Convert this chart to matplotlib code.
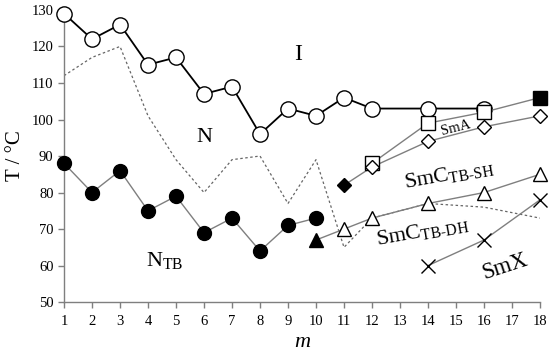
import matplotlib
matplotlib.use("Agg")
import matplotlib.pyplot as plt

plt.rcParams["font.family"] = ["Liberation Serif", "DejaVu Serif"]
plt.rcParams["mathtext.fontset"] = "custom"
plt.rcParams["mathtext.rm"] = "Liberation Serif"
plt.rcParams["mathtext.it"] = "Liberation Serif:italic"

# isotropic phase (open circles)
iso_m = [1, 2, 3, 4, 5, 6, 7, 8, 9, 10, 11, 12, 14, 16]
iso_T = [129, 122, 126, 115, 117, 107, 109, 96, 103, 101, 106, 103, 103, 103]

# N_TB (filled circles)
ntb_m = [1, 2, 3, 4, 5, 6, 7, 8, 9, 10]
ntb_T = [88, 80, 86, 75, 79, 69, 73, 64, 71, 73]

# SmA (squares), last one filled
sma_m = [12, 14, 16]
sma_T = [88, 99, 102]
sma_fill_m = [18]
sma_fill_T = [106]

# SmC_TB-SH (diamonds), first one filled
sh_m = [12, 14, 16, 18]
sh_T = [87, 94, 98, 101]
sh_fill_m = [11]
sh_fill_T = [82]

# SmC_TB-DH (triangles), first one filled
dh_m = [11, 12, 14, 16, 18]
dh_T = [70, 73, 77, 80, 85]
dh_fill_m = [10]
dh_fill_T = [67]

# SmX (crosses)
smx_m = [14, 16, 18]
smx_T = [60, 67, 78]

# dotted reference line
ref_m = [1, 2, 3, 4, 5, 6, 7, 8, 9, 10, 11, 12, 14, 16, 18]
ref_T = [112, 117, 120, 101, 89, 80, 89, 90, 77, 89, 65, 73, 77, 76, 73]

gray = "#7f7f7f"

fig = plt.figure(figsize=(5.5, 3.55), dpi=100)
ax = fig.add_axes([0.1164, 0.149, 0.8654, 0.823])

ax.plot(ref_m, ref_T, color="#666666", linestyle=(0, (2, 2)), linewidth=0.9, zorder=1)

ax.plot(ntb_m, ntb_T, color=gray, lw=1, marker="o", ms=10, mfc="black", mec="black", zorder=3, clip_on=False)
ax.plot(dh_fill_m + dh_m, dh_fill_T + dh_T, color=gray, lw=1, zorder=2)
ax.plot(dh_m, dh_T, ls="none", marker="^", ms=10, mfc="white", mec="black", mew=1, zorder=4, clip_on=False)
ax.plot(dh_fill_m, dh_fill_T, ls="none", marker="^", ms=10, mfc="black", mec="black", zorder=4)
ax.plot(sh_fill_m + sh_m, sh_fill_T + sh_T, color=gray, lw=1, zorder=2)
ax.plot(sh_m, sh_T, ls="none", marker="D", ms=7.5, mfc="white", mec="black", mew=1, zorder=5, clip_on=False)
ax.plot(sh_fill_m, sh_fill_T, ls="none", marker="D", ms=7.5, mfc="black", mec="black", zorder=5)
ax.plot(smx_m, smx_T, color=gray, lw=1, marker="x", ms=10, mec="black", mew=1, zorder=4, clip_on=False)

ax.plot(iso_m, iso_T, color="black", lw=1.3, marker="o", ms=11, mfc="white", mec="black", mew=1, zorder=3, clip_on=False)
ax.plot(sma_m + sma_fill_m, sma_T + sma_fill_T, color=gray, lw=1, zorder=3.5)
ax.plot(sma_m, sma_T, ls="none", marker="s", ms=10, mfc="white", mec="black", mew=1, zorder=4, clip_on=False)
ax.plot(sma_fill_m, sma_fill_T, ls="none", marker="s", ms=10, mfc="black", mec="black", zorder=4, clip_on=False)

# phase labels
ax.text(9.36, 117.7, "I", fontsize=17, ha="center", va="center")
ax.text(6.0, 95.2, "N", fontsize=16, ha="center", va="center")
ax.text(4.6, 61.5, r"N$_{\mathrm{TB}}$", fontsize=16, ha="center", va="center")
ax.text(15.0, 97.7, "SmA", fontsize=10.5, ha="center", va="center", rotation=14)
ax.text(14.75, 84.8, "SmC$_{\\mathrm{TB\u2010SH}}$", fontsize=16, ha="center", va="center", rotation=10)
ax.text(13.8, 69.2, "SmC$_{\\mathrm{TB\u2010DH}}$", fontsize=16, ha="center", va="center", rotation=10)
ax.text(16.75, 59.8, "SmX", fontsize=16.5, ha="center", va="center", rotation=18)

ax.set_xlim(1, 18)
ax.set_ylim(50, 130)
ax.set_xticks(range(1, 19))
ax.set_yticks(range(50, 131, 10))
ax.tick_params(labelsize=10.5, color=gray, length=4, width=1, direction="out")
ax.tick_params(axis="x", pad=5)
for side in ["top", "right"]:
    ax.spines[side].set_visible(False)
for side in ["left", "bottom"]:
    ax.spines[side].set_color(gray)
    ax.spines[side].set_linewidth(1)

ax.set_ylabel("T / °C", fontsize=15, labelpad=5)
ax.set_xlabel("m", fontsize=16, style="italic", labelpad=4)

fig.savefig("out.png", dpi=100)
